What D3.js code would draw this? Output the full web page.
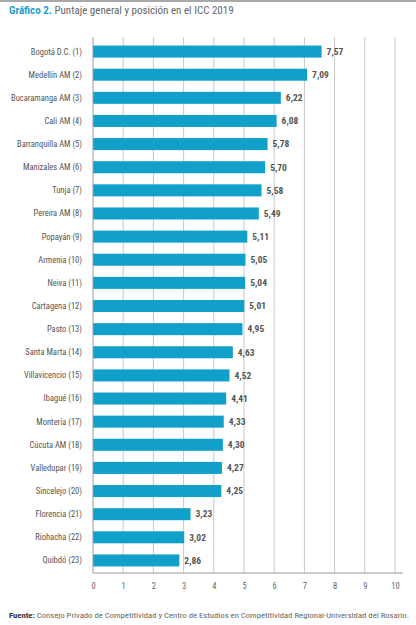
<!DOCTYPE html>
<html><head><meta charset="utf-8">
<script src="https://cdn.jsdelivr.net/npm/d3@7"></script>
<style>body{margin:0;background:#fff}svg{display:block}</style>
</head><body>
<svg id="c" width="416" height="625"></svg>
<script>
const categories = ["Bogotá D.C. (1)","Medellín AM (2)","Bucaramanga AM (3)","Cali AM (4)","Barranquilla AM (5)","Manizales AM (6)","Tunja (7)","Pereira AM (8)","Popayán (9)","Armenia (10)","Neiva (11)","Cartagena (12)","Pasto (13)","Santa Marta (14)","Villavicencio (15)","Ibagué (16)","Montería (17)","Cúcuta AM (18)","Valledupar (19)","Sincelejo (20)","Florencia (21)","Riohacha (22)","Quibdó (23)"];
const values = [7.57,7.09,6.22,6.08,5.78,5.70,5.58,5.49,5.11,5.05,5.04,5.01,4.95,4.63,4.52,4.41,4.33,4.30,4.27,4.25,3.23,3.02,2.86];
const tickValues = [0,1,2,3,4,5,6,7,8,9,10];
const titleBold = "Gráfico 2.";
const titleRest = " Puntaje general y posición en el ICC 2019";
const sourceBold = "Fuente:";
const sourceRest = " Consejo Privado de Competitividad y Centro de Estudios en Competitividad Regional-Universidad del Rosario.";

const svg = d3.select("#c");
const font = "'Roboto Condensed','Liberation Sans Narrow','Roboto',sans-serif";
const x = d3.scaleLinear().domain([0,10]).range([93,395]);
const y = d3.scaleBand().domain(categories).range([40,572]).paddingInner(0.48).paddingOuter(0.24);

svg.append("rect").attr("x",0).attr("y",0).attr("width",416).attr("height",2).attr("fill","#a8a8a8");

const t = svg.append("text").attr("x",9).attr("y",14).attr("font-family",font).attr("font-size",11);
t.append("tspan").attr("font-weight","bold").attr("fill","#1f9dcc").text(titleBold);
t.append("tspan").attr("fill","#666").text(titleRest);

// grid
svg.append("g").selectAll("line").data(tickValues.slice(1)).join("line")
  .attr("x1",d=>x(d)).attr("x2",d=>x(d)).attr("y1",37).attr("y2",573)
  .attr("stroke","#c8c8c8").attr("stroke-width",1);

// bars
svg.append("g").selectAll("rect").data(values).join("rect")
  .attr("x",x(0)).attr("y",(d,i)=>y(categories[i]))
  .attr("width",d=>x(d)-x(0)).attr("height",y.bandwidth())
  .attr("fill","#11a0c9");

// value labels
svg.append("g").selectAll("text").data(values).join("text")
  .attr("x",d=>x(d)+5).attr("y",(d,i)=>y(categories[i])+y.bandwidth()/2)
  .attr("dy","0.35em").attr("font-family",font).attr("font-size",9.5).attr("font-weight","bold")
  .attr("fill","#555").text(d=>d.toFixed(2).replace(".",","));

// category labels
svg.append("g").selectAll("text").data(categories).join("text")
  .attr("x",82).attr("y",d=>y(d)+y.bandwidth()/2).attr("dy","0.35em")
  .attr("text-anchor","end").attr("font-family",font).attr("font-size",8.5)
  .attr("fill","#555").text(d=>d);

// axes lines
svg.append("line").attr("x1",x(0)).attr("x2",x(0)).attr("y1",37).attr("y2",573).attr("stroke","#9a9a9a");
svg.append("line").attr("x1",x(0)).attr("x2",x(10)+8).attr("y1",573).attr("y2",573).attr("stroke","#9a9a9a");

const xa = d3.axisBottom(x).tickValues(tickValues).tickSize(0).tickPadding(0);
const g = svg.append("g").attr("transform","translate(0,583)").call(xa);
g.select(".domain").remove();
g.selectAll("text").attr("font-family",font).attr("font-size",8.5).attr("fill","#666");

const s = svg.append("text").attr("x",9).attr("y",618).attr("font-family",font).attr("font-size",8)
  .attr("textLength",400).attr("lengthAdjust","spacingAndGlyphs");
s.append("tspan").attr("font-weight","bold").attr("fill","#333").text(sourceBold);
s.append("tspan").attr("fill","#666").text(sourceRest);
</script>
</body></html>
